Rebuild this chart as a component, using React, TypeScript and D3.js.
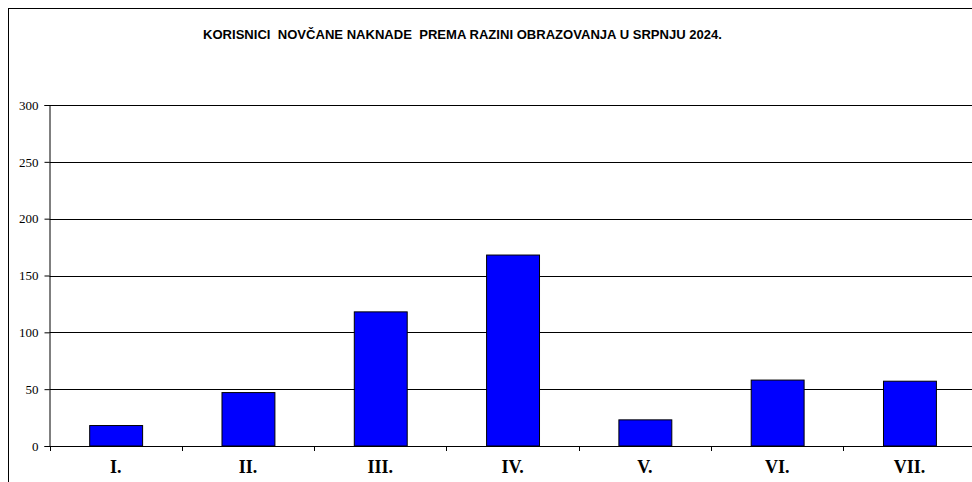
import React, { useEffect, useRef } from "react";
import * as d3 from "d3";

const categories = ["I.", "II.", "III.", "IV.", "V.", "VI.", "VII."];
const values = [18, 47, 118, 168, 23, 58, 57];
const yTicks = [0, 50, 100, 150, 200, 250, 300];
const title = "KORISNICI  NOVČANE NAKNADE  PREMA RAZINI OBRAZOVANJA U SRPNJU 2024.";

function App() {
  const svgRef = useRef<SVGSVGElement | null>(null);

  useEffect(() => {
    const w = 972;
    const h = 482;
    const left = 49.5;
    const right = 975.6;
    const top = 105;
    const bottom = 446;

    const svg = d3.select(svgRef.current).attr("width", w).attr("height", h);
    svg.selectAll("*").remove();

    svg
      .append("rect")
      .attr("width", w)
      .attr("height", h)
      .attr("fill", "#fff");

    // outer frame, cropped on the right and bottom
    svg
      .append("rect")
      .attr("x", 8.5)
      .attr("y", 8.5)
      .attr("width", 1000)
      .attr("height", 500)
      .attr("fill", "none")
      .attr("stroke", "#000");

    svg
      .append("text")
      .attr("x", 203)
      .attr("y", 39)
      .attr("textLength", 519)
      .attr("lengthAdjust", "spacingAndGlyphs")
      .style("font-family", "'Liberation Sans', Arial, sans-serif")
      .style("font-weight", "bold")
      .style("font-size", "13px")
      .style("white-space", "pre")
      .text(title);

    const xScale = d3
      .scaleBand()
      .domain(categories)
      .range([left, right])
      .paddingInner(0.6)
      .paddingOuter(0.3);

    const yScale = d3.scaleLinear().domain([0, 300]).range([bottom, top]);

    // gridlines
    svg
      .append("g")
      .selectAll("line")
      .data(yTicks.filter((t) => t > 0))
      .join("line")
      .attr("x1", left)
      .attr("x2", right)
      .attr("y1", (d) => Math.round(yScale(d)) + 0.5)
      .attr("y2", (d) => Math.round(yScale(d)) + 0.5)
      .attr("stroke", "#000");

    // bars
    svg
      .append("g")
      .selectAll("rect")
      .data(values)
      .join("rect")
      .attr("x", (v, i) => (xScale(categories[i]) as number) + 0.5)
      .attr("y", (v) => yScale(v))
      .attr("width", xScale.bandwidth())
      .attr("height", (v) => bottom - yScale(v))
      .attr("fill", "#0000ff")
      .attr("stroke", "#000");

    // y axis
    const yAxis = d3.axisLeft(yScale).tickValues(yTicks).tickSize(5).tickPadding(6);
    const yg = svg
      .append("g")
      .attr("transform", `translate(${left},0)`)
      .call(yAxis);
    yg.select(".domain").attr("stroke", "#000");
    yg.selectAll("text")
      .style("font-family", "'Liberation Serif', 'Times New Roman', serif")
      .style("font-size", "13px")
      .attr("fill", "#000");

    // x axis
    svg
      .append("line")
      .attr("x1", left)
      .attr("x2", right)
      .attr("y1", bottom + 0.5)
      .attr("y2", bottom + 0.5)
      .attr("stroke", "#000");

    const step = xScale.step();
    svg
      .append("g")
      .selectAll("line")
      .data(d3.range(categories.length + 1))
      .join("line")
      .attr("x1", (i) => Math.round(left + i * step) + 0.5)
      .attr("x2", (i) => Math.round(left + i * step) + 0.5)
      .attr("y1", bottom)
      .attr("y2", bottom + 5)
      .attr("stroke", "#000");

    svg
      .append("g")
      .selectAll("text")
      .data(categories)
      .join("text")
      .attr("x", (c) => (xScale(c) as number) + xScale.bandwidth() / 2)
      .attr("y", 473)
      .attr("text-anchor", "middle")
      .style("font-family", "'Liberation Serif', 'Times New Roman', serif")
      .style("font-weight", "bold")
      .style("font-size", "18px")
      .text((c) => c);
  }, []);

  return (
    <div style={{ position: "absolute", left: 0, top: 0 }}>
      <svg ref={svgRef} style={{ display: "block" }}></svg>
    </div>
  );
}

export default App;
